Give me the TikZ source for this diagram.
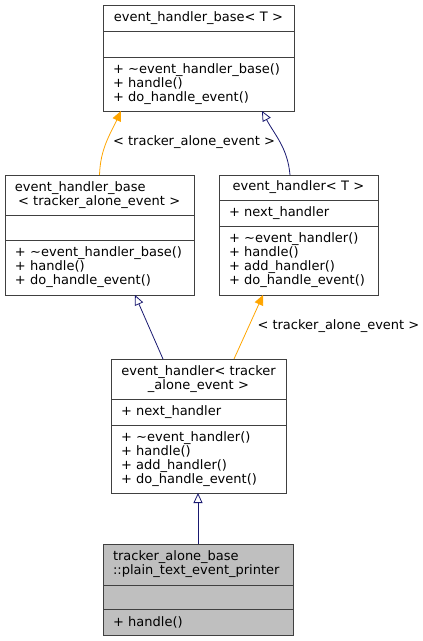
\documentclass[tikz,border=0pt]{standalone}
\usepackage{fontspec}
\setmainfont{DejaVu Sans}
\usetikzlibrary{arrows.meta,positioning}

\definecolor{edgeblue}{RGB}{25,25,112}
\definecolor{edgeorange}{RGB}{255,165,0}
\definecolor{boxgray}{RGB}{191,191,191}

\tikzset{
  part/.style={draw=black!75, line width=0.9pt, fill=white, outer sep=0pt,
    inner xsep=10pt, inner ysep=0pt, font=\fontsize{13}{14}\selectfont, align=left},
  inherit/.style={draw=edgeblue, line width=0.8pt, -{Triangle[open, length=10pt, width=9pt]}},
  templ/.style={draw=edgeorange, line width=0.8pt, -{Triangle[length=10pt, width=9pt]}},
  lbl/.style={font=\fontsize{13}{14}\selectfont}
}

\begin{document}
\begin{tikzpicture}[x=1pt, y=-1pt]
    \useasboundingbox (0,0) rectangle (423,641);

    % event_handler_base< T >
    \node[part, anchor=north west, text width=171pt, minimum height=26pt, align=center] (base-title) at (103,5) {event\_handler\_base< T >};
    \node[part, below=0pt of base-title, text width=171pt, minimum height=26pt] (base-attr) {};
    \node[part, below=0pt of base-attr, text width=171pt, minimum height=54pt] (base-ops) {+ \textasciitilde event\_handler\_base()\\+ handle()\\+ do\_handle\_event()};

    % event_handler_base< tracker_alone_event >
    \node[part, anchor=north west, text width=169pt, minimum height=40pt] (hb-title) at (5,175) {event\_handler\_base\\\hspace*{3pt}< tracker\_alone\_event >};
    \node[part, below=0pt of hb-title, text width=169pt, minimum height=25pt] (hb-attr) {};
    \node[part, below=0pt of hb-attr, text width=169pt, minimum height=55pt] (hb-ops) {+ \textasciitilde event\_handler\_base()\\+ handle()\\+ do\_handle\_event()};

    % event_handler< T >
    \node[part, anchor=north west, text width=139pt, minimum height=25pt, align=center] (h-title) at (219,175) {event\_handler< T >};
    \node[part, below=0pt of h-title, text width=139pt, minimum height=26pt] (h-attr) {+ next\_handler};
    \node[part, below=0pt of h-attr, text width=139pt, minimum height=69pt] (h-ops) {+ \textasciitilde event\_handler()\\+ handle()\\+ add\_handler()\\+ do\_handle\_event()};

    % event_handler< tracker_alone_event >
    \node[part, anchor=north west, text width=155pt, minimum height=40pt, align=center] (eh-title) at (111,359) {event\_handler< tracker\\\_alone\_event >};
    \node[part, below=0pt of eh-title, text width=155pt, minimum height=26pt] (eh-attr) {+ next\_handler};
    \node[part, below=0pt of eh-attr, text width=155pt, minimum height=68pt] (eh-ops) {+ \textasciitilde event\_handler()\\+ handle()\\+ add\_handler()\\+ do\_handle\_event()};

    % tracker_alone_base::plain_text_event_printer
    \node[part, fill=boxgray, anchor=north west, text width=170pt, minimum height=41pt] (pr-title) at (103,544) {tracker\_alone\_base\\::plain\_text\_event\_printer};
    \node[part, fill=boxgray, below=0pt of pr-title, text width=170pt, minimum height=24pt] (pr-attr) {};
    \node[part, fill=boxgray, below=0pt of pr-attr, text width=170pt, minimum height=26pt] (pr-ops) {+ handle()};

    % Edges
    \draw[templ] (hb-title.north) to[out=88, in=-115] ([xshift=-77.5pt]base-ops.south);
    \node[lbl] (lbl-top) at (194,142) {< tracker\_alone\_event >};
    \draw[inherit] ([xshift=-8.5pt]h-title.north) to[out=95, in=-62] ([xshift=63.5pt]base-ops.south);
    \draw[inherit] ([xshift=-35.5pt]eh-title.north) -- ([xshift=35.5pt]hb-ops.south);
    \draw[templ] ([xshift=35.5pt]eh-title.north) -- ([xshift=-35.5pt]h-ops.south);
    \node[lbl, anchor=west] (lbl-mid) at (254,326) {< tracker\_alone\_event >};
    \draw[inherit] (pr-title.north) -- (pr-title.north |- eh-ops.south);
\end{tikzpicture}
\end{document}
